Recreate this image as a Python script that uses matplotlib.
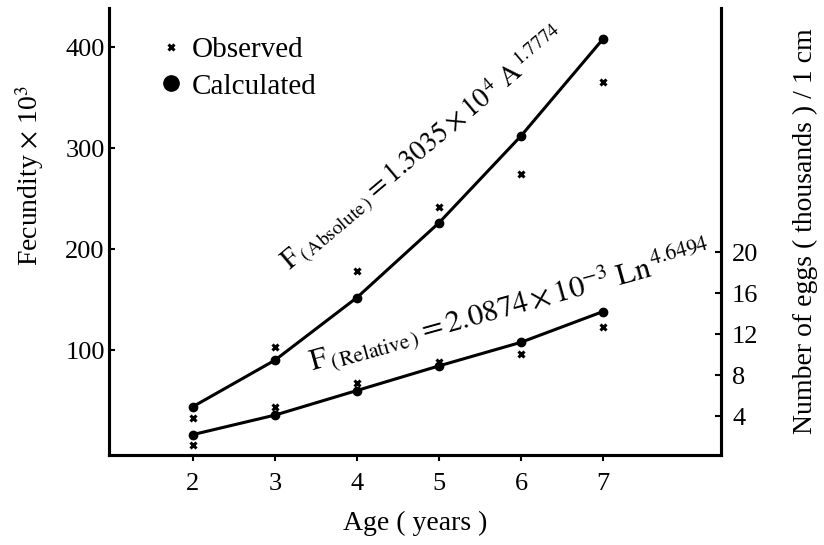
import matplotlib
matplotlib.use("Agg")
import matplotlib.pyplot as plt
from matplotlib.lines import Line2D

plt.rcParams["font.family"] = ["Liberation Serif", "DejaVu Serif"]
plt.rcParams["mathtext.fontset"] = "stix"

# Data
age = [2, 3, 4, 5, 6, 7]
abs_calculated = [44, 90, 152, 226, 312, 408]      # fecundity x 10^3
abs_observed = [33, 103, 178, 242, 274, 365]
rel_calculated = [2.2, 4.1, 6.5, 8.9, 11.2, 14.2]  # eggs (thousands) / 1 cm
rel_observed = [1.2, 4.9, 7.2, 9.3, 10.1, 12.7]

left_ticks = [100, 200, 300, 400]
right_ticks = [4, 8, 12, 16, 20]

fig = plt.figure(figsize=(8.24, 5.45), dpi=100)
ax = fig.add_axes([0.1323, 0.165, 0.7427, 0.82])
ax2 = ax.twinx()

ax.set_xlim(0.976, 8.44)
ax.set_ylim(-4, 438.6)
ax2.set_ylim(0.2, 43.8)

# absolute fecundity (left scale)
ax.plot(age, abs_calculated, color="black", lw=2.2, zorder=2)
ax.plot(age, abs_calculated, "o", color="black", ms=6, zorder=3)
ax.plot(age, abs_observed, "x", color="black", ms=5, mew=2.2, zorder=3)

# relative fecundity (right scale)
ax2.plot(age, rel_calculated, color="black", lw=2.2, zorder=2)
ax2.plot(age, rel_calculated, "o", color="black", ms=6, zorder=3)
ax2.plot(age, rel_observed, "x", color="black", ms=5, mew=2.2, zorder=3)

# equations written along the curves
ax.text(3.19, 178,
        r"$\mathrm{F}_{\,\mathrm{(\,Absolute\,)}} = 1.3035\times10^{\,4}\ \mathrm{A}^{\,1.7774}$",
        fontsize=20, rotation=40, rotation_mode="anchor", ha="left", va="baseline")
ax.text(3.45, 79,
        r"$\mathrm{F}_{\,\mathrm{(\,Relative\,)}} = 2.0874\times10^{-3}\ \mathrm{Ln}^{\,4.6494}$",
        fontsize=22, rotation=15.5, rotation_mode="anchor", ha="left", va="baseline")

# spines and ticks
for a in (ax, ax2):
    a.spines["top"].set_visible(False)
    for s in ("left", "right", "bottom"):
        a.spines[s].set_linewidth(2.2)

ax.set_xticks(age)
ax.set_yticks(left_ticks)
ax.tick_params(axis="x", direction="out", length=4, width=1.5, pad=9, labelsize=19)
ax.tick_params(axis="y", direction="in", length=4, width=1.5, pad=3, labelsize=19)
ax2.set_yticks(right_ticks)
ax2.tick_params(axis="y", direction="in", length=4, width=1.5, pad=8, labelsize=19)

ax.set_xlabel("Age ( years )", fontsize=20, labelpad=11)
ax.set_ylabel(r"Fecundity $\times$ 10$^3$", fontsize=20)
ax.yaxis.set_label_coords(-0.103, 0.625)
ax2.set_ylabel("Number of eggs ( thousands ) / 1 cm", fontsize=20, labelpad=25)

handles = [
    Line2D([], [], ls="none", marker="x", color="black", ms=5, mew=2.2),
    Line2D([], [], ls="none", marker="o", color="black", ms=11),
]
ax.legend(handles, ["Observed", "Calculated"], loc="upper left",
          bbox_to_anchor=(0.04, 0.995), frameon=False, fontsize=21,
          handlelength=0.8, handletextpad=0.3, labelspacing=0.35)

fig.savefig("out.png", dpi=100)
